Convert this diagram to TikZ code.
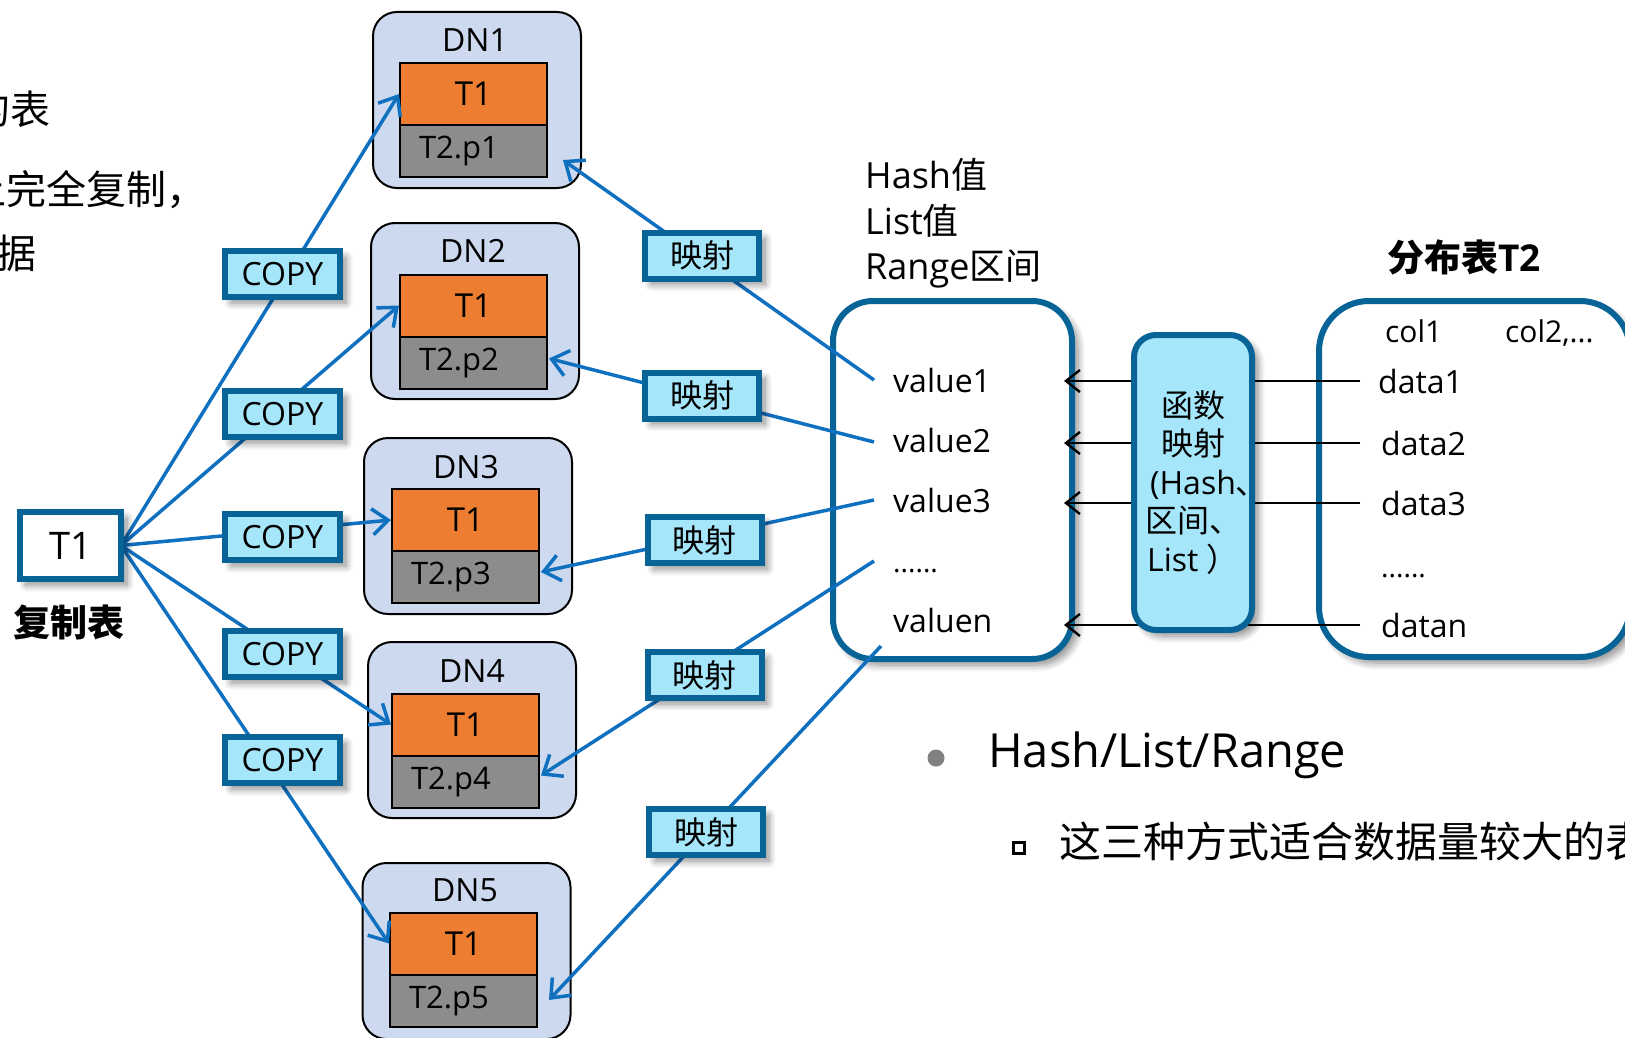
\documentclass[tikz,border=0pt]{standalone}
\usepackage{fontspec}
\setmainfont{Open Sans}
\newfontfamily\cjk{Noto Sans CJK SC}
\usetikzlibrary{arrows.meta,shadows,shadows.blur,calc}
\newcommand{\zh}[1]{{\cjk #1}}
\newcommand{\setfs}[2]{\fontsize{#1}{#2}\selectfont}
\definecolor{bbord}{RGB}{8,100,150}
\definecolor{cfill}{RGB}{166,230,250}
\definecolor{dnfill}{RGB}{205,217,238}
\definecolor{tone}{RGB}{237,125,49}
\definecolor{ttwo}{RGB}{140,140,140}
\definecolor{cblue}{RGB}{16,112,192}
\begin{document}
\begin{tikzpicture}[x=1pt,y=-1pt,
  shad/.style={blur shadow={shadow xshift=6pt,shadow yshift=-6pt,shadow blur radius=7pt,shadow blur steps=10,shadow opacity=45}},
  dnbox/.style={draw=black,line width=2pt,fill=dnfill,rounded corners=24pt,minimum width=208pt,minimum height=176pt,inner sep=0pt},
  dnlabel/.style={inner sep=0pt,font=\setfs{32}{36}},
  tonebox/.style={draw=black,line width=2pt,fill=tone,minimum width=147pt,minimum height=62pt,inner sep=0pt,font=\setfs{33}{38}},
  ttwobox/.style={draw=black,line width=2pt,fill=ttwo,minimum height=52pt,inner xsep=19pt,inner ysep=0pt,text width=109pt,align=left,font=\setfs{31}{36}},
  lblbox/.style={draw=bbord,line width=6pt,fill=cfill,minimum width=115pt,minimum height=46pt,inner sep=0pt,shad,font=\setfs{32}{36}},
  srcbox/.style={draw=bbord,line width=6pt,fill=white,minimum width=101pt,minimum height=67pt,inner sep=0pt,shad,font=\setfs{38}{40}},
  bigbox/.style={draw=bbord,line width=6pt,fill=white,inner sep=0pt,shad},
  funcbox/.style={draw=bbord,line width=6pt,fill=cfill,rounded corners=22pt,minimum width=118pt,minimum height=295pt,inner sep=0pt,shad,align=center,font=\setfs{32}{38.5}},
  txt/.style={inner sep=0pt,anchor=base west,font=\setfs{32}{36}},
  conn/.style={draw=cblue,line width=3.5pt},
  barb/.style={-{Straight Barb[length=16pt,width=26pt]}},
  blk/.style={draw=black,line width=2.4pt,-{Straight Barb[length=14pt,width=22pt]}}
]
\useasboundingbox (0,0) rectangle (1625,1038);
\clip (0,0) rectangle (1625,1038);

% partial text at left edge
\node[txt,font=\setfs{40}{48}] (p1) at (-30,125) {\zh{的表}};
\node[txt,font=\setfs{40}{48}] (p2) at (-34,204) {\zh{上完全复制，}};
\node[txt,font=\setfs{40}{48}] (p3) at (-44,268) {\zh{数据}};

% DN boxes
\node[dnbox] (dn1) at (477,100) {};
\node[dnlabel] (dn1l) at (475,40) {DN1};
\node[tonebox] (dn1a) at (473.5,94) {T1};
\node[ttwobox] (dn1b) at (473.5,151) {T2.p1};

\node[dnbox] (dn2) at (475,311) {};
\node[dnlabel] (dn2l) at (473,251) {DN2};
\node[tonebox] (dn2a) at (473.5,305.5) {T1};
\node[ttwobox] (dn2b) at (473.5,362.5) {T2.p2};

\node[dnbox] (dn3) at (468,526) {};
\node[dnlabel] (dn3l) at (466,467) {DN3};
\node[tonebox] (dn3a) at (465.5,520) {T1};
\node[ttwobox] (dn3b) at (465.5,577) {T2.p3};

\node[dnbox] (dn4) at (472,730) {};
\node[dnlabel] (dn4l) at (472,671) {DN4};
\node[tonebox] (dn4a) at (465.5,724.5) {T1};
\node[ttwobox] (dn4b) at (465.5,781.5) {T2.p4};

\node[dnbox] (dn5) at (466.5,951) {};
\node[dnlabel] (dn5l) at (465,890) {DN5};
\node[tonebox] (dn5a) at (463.5,943.5) {T1};
\node[ttwobox] (dn5b) at (463.5,1001) {T2.p5};

% big boxes
\node[bigbox,rounded corners=40pt,minimum width=239pt,minimum height=358pt] (mid) at (952.5,480) {};
\node[bigbox,rounded corners=50pt,minimum width=311pt,minimum height=356pt] (tbl) at (1474.5,479) {};

% header texts
\node[txt,font=\setfs{36}{40}] (hh1) at (865,189) {Hash\zh{值}};
\node[txt,font=\setfs{36}{40}] (hh2) at (865,234) {List\zh{值}};
\node[txt,font=\setfs{36}{40}] (hh3) at (865,279) {Range\zh{区间}};
\node[font=\bfseries\setfs{37}{40},inner sep=0pt] (t2title) at (1464,257) {\zh{分布表}T2};

% values
\node[txt] (v1) at (893,392) {value1};
\node[txt] (v2) at (893,452) {value2};
\node[txt] (v3) at (893,512) {value3};
\node[txt,font=\setfs{28}{34}] (v4) at (893,572) {......};
\node[txt] (vn) at (893,632) {valuen};

% data
\node[txt,font=\setfs{30}{34}] (col1) at (1385,342) {col1};
\node[txt,font=\setfs{30}{34}] (col2) at (1505,342) {col2,...};
\node[txt] (d1) at (1378,393) {data1};
\node[txt] (d2) at (1381,455) {data2};
\node[txt] (d3) at (1381,515) {data3};
\node[txt,font=\setfs{28}{34}] (d4) at (1381,577) {......};
\node[txt] (dn) at (1381,637) {datan};

% free ends of mapping connectors
\coordinate (e1) at (874,380);
\coordinate (e2) at (874,442);
\coordinate (e3) at (874,500);
\coordinate (e4) at (874,561);
\coordinate (e5) at (881,646);
\coordinate (ax) at (1064,0);

% copy connectors
\draw[conn,barb] (121,545.5) coordinate (t1e) -- (dn1a.west);
\draw[conn,barb] (t1e) -- (dn2a.west);
\draw[conn,barb] (t1e) -- (dn3a.west);
\draw[conn,barb] (t1e) -- (dn4a.west);
\draw[conn,barb] (t1e) -- (dn5a.west);

% mapping connectors
\draw[conn,barb] (e1) -- ($(dn1b.east)+(15,9)$);
\draw[conn,barb] (e2) -- ($(dn2b.east)+(1,-4)$);
\draw[conn,barb] (e3) -- ($(dn3b.east)+(1,-5)$);
\draw[conn,barb] (e4) -- ($(dn4b.east)+(1,-6)$);
\draw[conn,barb] (e5) -- ($(dn5b.east)+(11,-1)$);

% function arrows
\draw[blk] ($(d1.west)+(-18,0)$) -- (d1.west -| ax);
\draw[blk] ($(d2.west)+(-21,0)$) -- (d2.west -| ax);
\draw[blk] ($(d3.west)+(-21,0)$) -- (d3.west -| ax);
\draw[blk] ($(dn.west)+(-21,0)$) -- (dn.west -| ax);

\node[funcbox] (func) at (1193,482.5) {\zh{函数}\\\zh{映射}\\(Hash\rlap{\zh{、}}\\\zh{区间、}\\List \zh{）}};

% source table
\node[srcbox] (t1) at (70.5,545.5) {T1};
\node[font=\bfseries\setfs{37}{40},inner sep=0pt] (t1title) at (69,622) {\zh{复制表}};

% COPY labels
\node[lblbox] (c1) at (282.5,274) {COPY};
\node[lblbox] (c2) at (282.5,414) {COPY};
\node[lblbox] (c3) at (282.5,537) {COPY};
\node[lblbox] (c4) at (282.5,654) {COPY};
\node[lblbox] (c5) at (282.5,760) {COPY};

% mapping labels
\node[lblbox,minimum width=114pt] (m1) at (702,255.5) {\zh{映射}};
\node[lblbox,minimum width=114pt] (m2) at (702,395.5) {\zh{映射}};
\node[lblbox,minimum width=114pt] (m3) at (704.5,540) {\zh{映射}};
\node[lblbox,minimum width=114pt] (m4) at (704.5,675) {\zh{映射}};
\node[lblbox,minimum width=114pt] (m5) at (706,832) {\zh{映射}};

% bullets
\node[circle,fill=black!50,minimum size=17pt,inner sep=0pt] (b1) at (936,758) {};
\node[txt,font=\setfs{47}{56}] (h1) at (988,767) {Hash/List/Range};
\node[draw=black,line width=3pt,minimum size=11pt,inner sep=0pt] (b2) at (1019,848) {};
\node[txt,font=\setfs{42}{48}] (h2) at (1059,857) {\zh{这三种方式适合数据量较大的表}};
\end{tikzpicture}
\end{document}
